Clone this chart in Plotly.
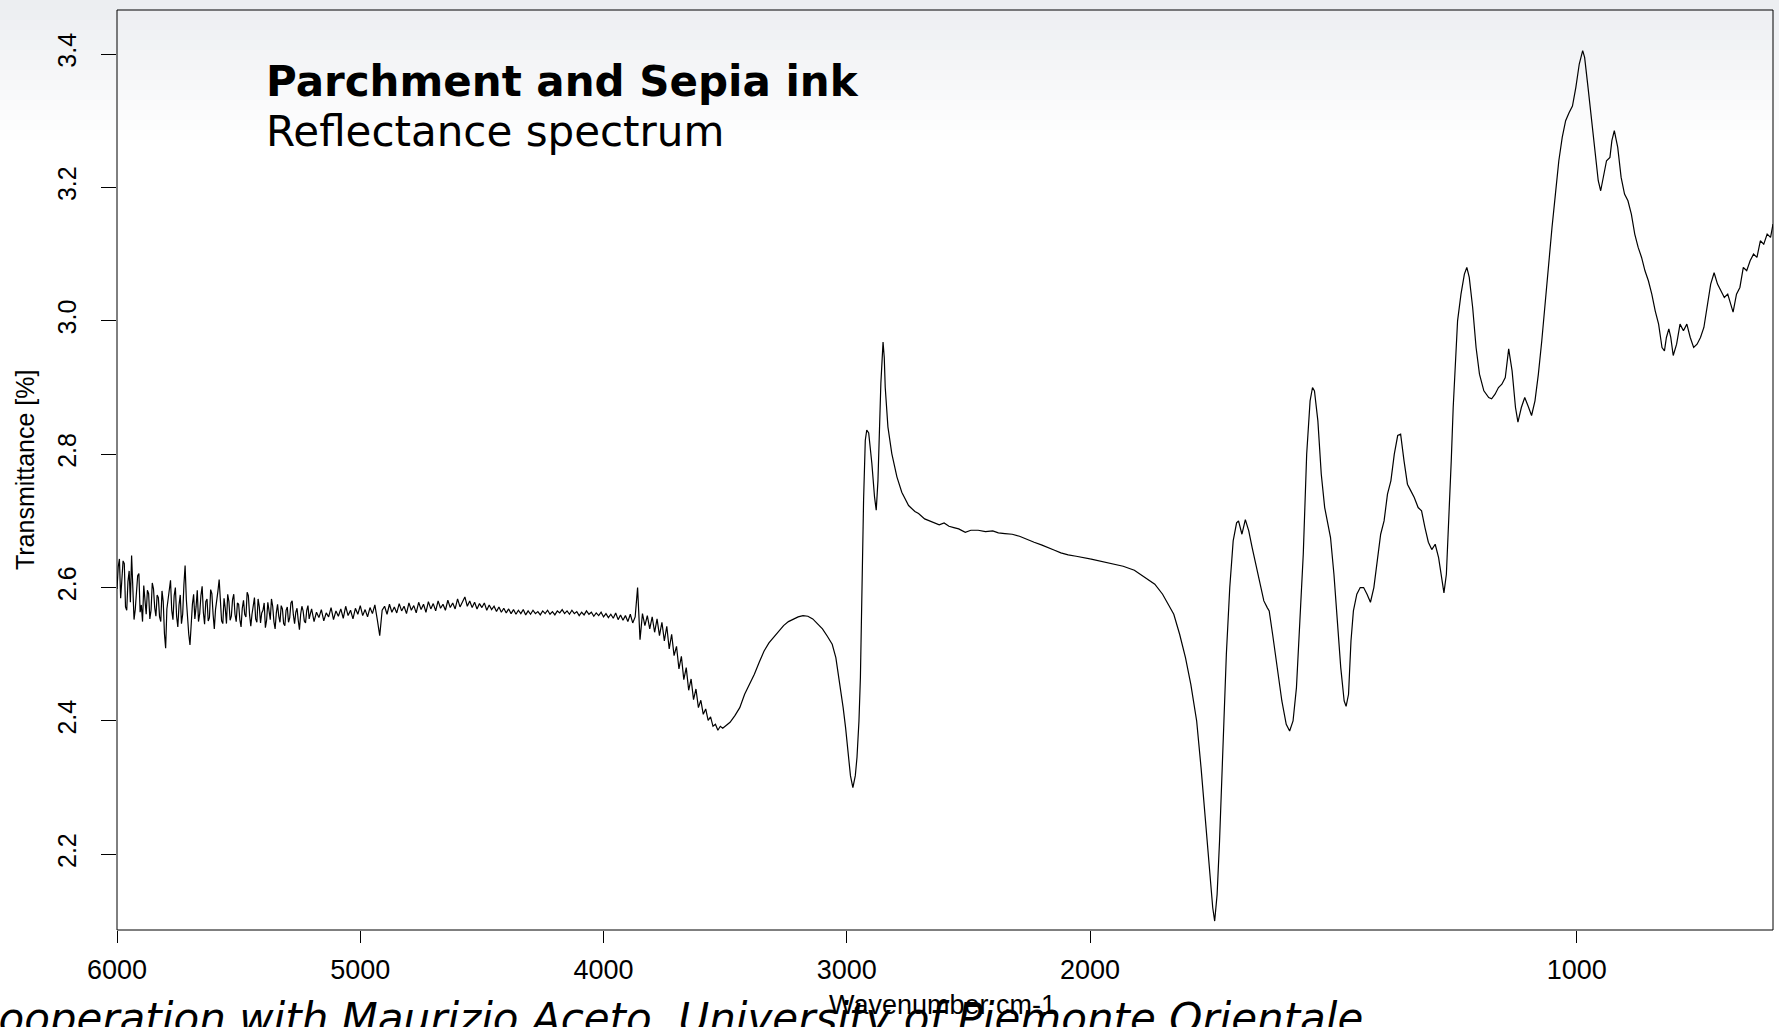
import plotly.graph_objects as go

# ---------------- data ----------------
# very noisy part, sampled every 5 cm-1 (6000 -> 5205)
noisy_a_wn = list(range(6000, 5200, -5))
noisy_a_t = [
    2.598, 2.631, 2.643, 2.584, 2.612, 2.640, 2.636, 2.571, 2.566, 2.609,
    2.625, 2.578, 2.648, 2.590, 2.552, 2.567, 2.590, 2.618, 2.621, 2.563,
    2.574, 2.549, 2.603, 2.584, 2.560, 2.596, 2.591, 2.553, 2.566, 2.607,
    2.598, 2.570, 2.557, 2.589, 2.585, 2.556, 2.549, 2.595, 2.579, 2.531,
    2.509, 2.568, 2.583, 2.602, 2.611, 2.566, 2.552, 2.588, 2.600, 2.557,
    2.541, 2.574, 2.589, 2.546, 2.560, 2.604, 2.633, 2.582, 2.548, 2.530,
    2.514, 2.556, 2.575, 2.590, 2.553, 2.571, 2.596, 2.549, 2.561, 2.588,
    2.602, 2.563, 2.545, 2.579, 2.583, 2.550, 2.555, 2.597, 2.591, 2.560,
    2.538, 2.567, 2.578, 2.595, 2.612, 2.571, 2.550, 2.546, 2.584, 2.569,
    2.546, 2.590, 2.579, 2.551, 2.557, 2.582, 2.590, 2.560, 2.549, 2.577,
    2.575, 2.552, 2.541, 2.569, 2.581, 2.560, 2.556, 2.593, 2.588, 2.559,
    2.542, 2.560, 2.570, 2.585, 2.553, 2.548, 2.583, 2.571, 2.547, 2.562,
    2.566, 2.577, 2.540, 2.551, 2.578, 2.560, 2.552, 2.583, 2.572, 2.549,
    2.538, 2.562, 2.575, 2.557, 2.548, 2.573, 2.568, 2.546, 2.543, 2.566,
    2.571, 2.548, 2.555, 2.577, 2.580, 2.559, 2.546, 2.563, 2.569, 2.551,
    2.537, 2.560, 2.572, 2.565, 2.550, 2.547, 2.566, 2.573, 2.553, 2.561,
]

# quieter part, sampled every 10 cm-1 (5200 -> 3510)
noisy_b_wn = list(range(5200, 3500, -10))
noisy_b_t = [
    2.568, 2.549, 2.563, 2.555, 2.567, 2.550, 2.562, 2.556, 2.570, 2.552,
    2.565, 2.557, 2.568, 2.554, 2.572, 2.558, 2.566, 2.553, 2.569, 2.560,
    2.573, 2.558, 2.567, 2.556, 2.570, 2.561, 2.574, 2.552, 2.528, 2.566,
    2.572, 2.560, 2.575, 2.563, 2.571, 2.562, 2.576, 2.565, 2.572, 2.561,
    2.577, 2.566, 2.573, 2.562, 2.578, 2.567, 2.575, 2.563, 2.579, 2.568,
    2.576, 2.565, 2.580, 2.569, 2.575, 2.566, 2.581, 2.570, 2.577, 2.568,
    2.583, 2.571, 2.578, 2.586, 2.572, 2.580, 2.570, 2.578, 2.568, 2.576,
    2.570, 2.577, 2.566, 2.574, 2.567, 2.572, 2.564, 2.571, 2.563, 2.569,
    2.562, 2.568, 2.561, 2.567, 2.560, 2.566, 2.561, 2.567, 2.559, 2.565,
    2.560, 2.566, 2.561, 2.564, 2.559, 2.565, 2.561, 2.566, 2.560, 2.564,
    2.559, 2.565, 2.562, 2.567, 2.561, 2.565, 2.560, 2.566, 2.561, 2.564,
    2.558, 2.563, 2.559, 2.565, 2.560, 2.563, 2.557, 2.562, 2.558, 2.563,
    2.556, 2.561, 2.555, 2.560, 2.554, 2.562, 2.552, 2.559, 2.551, 2.558,
    2.549, 2.560, 2.547, 2.556, 2.600, 2.522, 2.561, 2.543, 2.558, 2.538,
    2.556, 2.533, 2.553, 2.528, 2.548, 2.520, 2.542, 2.508, 2.530, 2.498,
    2.512, 2.478, 2.497, 2.462, 2.480, 2.446, 2.463, 2.432, 2.448, 2.420,
    2.431, 2.410, 2.418, 2.401, 2.406, 2.392, 2.395, 2.386, 2.392, 2.389,
]

# smooth region 3500 -> 2000 cm-1 (left scale)
mid_wn = [3500, 3480, 3460, 3440, 3420, 3400, 3380, 3360, 3340, 3320, 3300, 3280,
          3260, 3240, 3220, 3200, 3180, 3160, 3140, 3120, 3100, 3080, 3060, 3045,
          3030, 3015, 3005, 2995, 2985, 2975, 2965, 2958, 2950, 2944, 2938, 2931,
          2924, 2918, 2910, 2903, 2897, 2886, 2879, 2872, 2866, 2860, 2851, 2846,
          2842, 2831, 2815, 2794, 2774, 2746, 2720, 2705, 2680, 2650, 2620, 2600,
          2580, 2560, 2540, 2513, 2490, 2460, 2430, 2400, 2377, 2350, 2320, 2290,
          2260, 2230, 2200, 2170, 2146, 2120, 2090, 2057, 2030, 2000]
mid_t = [2.392, 2.398, 2.408, 2.420, 2.440, 2.455, 2.470, 2.488, 2.505, 2.517, 2.526, 2.535,
         2.543, 2.549, 2.553, 2.556, 2.558, 2.557, 2.553, 2.546, 2.538, 2.527, 2.515, 2.495,
         2.460, 2.420, 2.390, 2.350, 2.318, 2.300, 2.318, 2.346, 2.400, 2.466, 2.606, 2.731,
         2.821, 2.836, 2.832, 2.810, 2.786, 2.736, 2.716, 2.760, 2.840, 2.906, 2.968, 2.945,
         2.900, 2.841, 2.801, 2.766, 2.743, 2.723, 2.714, 2.711, 2.703, 2.698, 2.694, 2.697,
         2.692, 2.690, 2.688, 2.683, 2.686, 2.686, 2.684, 2.685, 2.682, 2.681, 2.680, 2.677,
         2.672, 2.668, 2.664, 2.660, 2.656, 2.652, 2.649, 2.647, 2.645, 2.643]

# fingerprint region 2000 -> 597 cm-1 (expanded scale)
low_wn = [2000, 1967, 1932, 1909, 1886, 1867, 1851, 1839, 1828, 1816, 1804, 1793,
          1781, 1772, 1762, 1755, 1748, 1744, 1739, 1734, 1730, 1725, 1720, 1713,
          1706, 1699, 1695, 1688, 1681, 1674, 1667, 1657, 1650, 1643, 1636, 1632,
          1625, 1616, 1606, 1597, 1590, 1583, 1576, 1569, 1562, 1555, 1548, 1543,
          1539, 1532, 1525, 1518, 1511, 1506, 1499, 1492, 1485, 1478, 1474, 1469,
          1464, 1459, 1452, 1445, 1438, 1431, 1424, 1417, 1410, 1403, 1396, 1389,
          1382, 1375, 1368, 1362, 1355, 1348, 1341, 1334, 1326, 1319, 1312, 1305,
          1298, 1291, 1284, 1277, 1273, 1268, 1263, 1258, 1254, 1249, 1245, 1238,
          1231, 1226, 1221, 1214, 1207, 1200, 1191, 1181, 1175, 1168, 1161, 1154,
          1147, 1140, 1133, 1126, 1121, 1114, 1107, 1100, 1093, 1086, 1079, 1072,
          1065, 1058, 1051, 1044, 1037, 1030, 1023, 1016, 1009, 1002, 995, 988,
          984, 977, 970, 963, 956, 951, 946, 939, 932, 928, 923, 916,
          909, 902, 895, 888, 881, 874, 867, 860, 853, 846, 839, 832,
          825, 820, 816, 811, 807, 802, 795, 788, 781, 774, 767, 760,
          753, 746, 739, 732, 725, 718, 711, 704, 697, 690, 683, 679,
          672, 665, 658, 651, 644, 637, 630, 623, 616, 609, 602, 597]
low_t = [2.643, 2.638, 2.632, 2.626, 2.615, 2.605, 2.590, 2.575, 2.560, 2.530, 2.495, 2.455,
         2.400, 2.330, 2.240, 2.170, 2.120, 2.100, 2.140, 2.220, 2.290, 2.400, 2.500, 2.600,
         2.670, 2.697, 2.700, 2.680, 2.702, 2.685, 2.660, 2.625, 2.600, 2.580, 2.570, 2.565,
         2.530, 2.480, 2.430, 2.395, 2.385, 2.400, 2.450, 2.550, 2.650, 2.800, 2.880, 2.900,
         2.895, 2.850, 2.770, 2.720, 2.690, 2.675, 2.620, 2.550, 2.480, 2.430, 2.422, 2.440,
         2.520, 2.565, 2.590, 2.600, 2.600, 2.590, 2.578, 2.600, 2.640, 2.680, 2.700, 2.740,
         2.760, 2.800, 2.828, 2.830, 2.790, 2.755, 2.745, 2.735, 2.720, 2.715, 2.690, 2.668,
         2.657, 2.665, 2.645, 2.610, 2.592, 2.620, 2.700, 2.790, 2.870, 2.950, 3.000, 3.040,
         3.070, 3.080, 3.065, 3.020, 2.960, 2.920, 2.895, 2.885, 2.883, 2.890, 2.900, 2.905,
         2.915, 2.958, 2.925, 2.870, 2.848, 2.870, 2.885, 2.872, 2.858, 2.880, 2.920, 2.970,
         3.030, 3.080, 3.140, 3.190, 3.240, 3.275, 3.300, 3.312, 3.322, 3.350, 3.385, 3.405,
         3.395, 3.350, 3.300, 3.255, 3.210, 3.195, 3.215, 3.240, 3.245, 3.270, 3.285, 3.260,
         3.215, 3.190, 3.180, 3.160, 3.130, 3.110, 3.095, 3.075, 3.060, 3.040, 3.015, 2.995,
         2.960, 2.955, 2.975, 2.988, 2.975, 2.948, 2.965, 2.995, 2.985, 2.995, 2.975, 2.960,
         2.965, 2.975, 2.990, 3.020, 3.055, 3.072, 3.055, 3.045, 3.035, 3.040, 3.025, 3.013,
         3.040, 3.050, 3.080, 3.075, 3.090, 3.100, 3.095, 3.120, 3.115, 3.130, 3.125, 3.145]

x_ticks_high = [6000, 5000, 4000, 3000, 2000]
x_ticks_low = [1000]
y_ticks = [2.2, 2.4, 2.6, 2.8, 3.0, 3.2, 3.4]

title_main = "Parchment and Sepia ink"
title_sub = "Reflectance spectrum"
x_title = "Wavenumber cm-1"
y_title = "Transmittance [%]"
credit = "In cooperation with Maurizio Aceto, University of Piemonte Orientale"

# ---------------- figure ----------------
W, H = 1779, 1027
L, R, T, B = 117, 6, 10, 97
PW, PH = W - L - R, H - T - B
split = 0.5876

high_x = noisy_a_wn + noisy_b_wn + mid_wn
high_y = noisy_a_t + noisy_b_t + mid_t

line = dict(color="black", width=1.2)
fig = go.Figure()
fig.add_trace(go.Scatter(x=high_x, y=high_y, mode="lines", line=line,
                         xaxis="x", yaxis="y", showlegend=False, hoverinfo="skip"))
fig.add_trace(go.Scatter(x=low_wn, y=low_t, mode="lines", line=line,
                         xaxis="x2", yaxis="y", showlegend=False, hoverinfo="skip"))

xfont = dict(family="Liberation Sans, Arial", size=27, color="black")
yfont = dict(family="Liberation Sans, Arial", size=25, color="black")
xcommon = dict(showgrid=False, zeroline=False, showline=False, ticks="outside",
               ticklen=12, tickwidth=1, tickcolor="black", tickfont=xfont,
               ticklabelstandoff=4, automargin=False)
fig.update_layout(
    width=W, height=H, autosize=False,
    margin=dict(l=L, r=R, t=T, b=B, pad=0, autoexpand=False),
    paper_bgcolor="white", plot_bgcolor="rgba(0,0,0,0)",
    hovermode=False, dragmode=False,
    xaxis=dict(domain=[0, split], range=[6000, 2000], tickvals=x_ticks_high,
               anchor="y", **xcommon),
    xaxis2=dict(domain=[split, 1], range=[2000, 597], tickvals=x_ticks_low,
                anchor="y", **xcommon),
    yaxis=dict(range=[2.0866, 3.466], tickvals=y_ticks, tickformat=".1f",
               showgrid=False, zeroline=False, showline=False, ticks="outside",
               ticklen=15, tickwidth=1, tickcolor="black", tickangle=-90,
               tickfont=yfont, ticklabelstandoff=15, automargin=False),
)

# slide background gradient at the top
shapes = []
top_c = (236, 238, 241)
nb = 14
for i in range(nb):
    f = i / nb
    c = tuple(int(round(top_c[k] + (255 - top_c[k]) * f)) for k in range(3))
    y0p, y1p = 10 * i, 10 * (i + 1)
    shapes.append(dict(type="rect", xref="paper", yref="paper", layer="below",
                       x0=-L / PW, x1=(W - L) / PW,
                       y0=(H - B - y1p) / PH, y1=(H - B - y0p) / PH,
                       fillcolor="rgb(%d,%d,%d)" % c, line=dict(width=0)))
# plot frame
shapes.append(dict(type="rect", xref="paper", yref="paper", x0=0, x1=1, y0=0, y1=1,
                   line=dict(color="black", width=1), fillcolor="rgba(0,0,0,0)"))
fig.update_layout(shapes=shapes)

ann_font = "DejaVu Sans, Verdana"
fig.add_annotation(text="<b>%s</b>" % title_main, xref="paper", yref="paper",
                   x=0.0888, y=0.9221, xanchor="left", yanchor="middle", showarrow=False,
                   font=dict(family=ann_font, size=42, color="black"))
fig.add_annotation(text=title_sub, xref="paper", yref="paper",
                   x=0.0888, y=0.8678, xanchor="left", yanchor="middle", showarrow=False,
                   font=dict(family=ann_font, size=42, color="black"))
fig.add_annotation(text=x_title, xref="paper", yref="paper",
                   x=0.4982, y=-0.0815, xanchor="center", yanchor="middle", showarrow=False,
                   font=dict(family="Liberation Sans, Arial", size=27, color="black"))
fig.add_annotation(text=y_title, xref="paper", yref="paper", textangle=-90,
                   x=-0.0555, y=0.5, xanchor="center", yanchor="middle", showarrow=False,
                   font=dict(family="Liberation Sans, Arial", size=25, color="black"))
fig.add_annotation(text="<i>%s</i>" % credit, xref="paper", yref="paper",
                   x=0.7535, y=-0.0957, xanchor="right", yanchor="middle", showarrow=False,
                   font=dict(family=ann_font, size=42, color="black"))

post = ("document.body.style.margin='0';document.body.style.overflow='hidden';"
        "Plotly.relayout(document.getElementById('{plot_id}'), {width: %d, height: %d});" % (W, H))
fig.write_html("out.html", post_script=post,
               config={"displayModeBar": False, "staticPlot": True})
